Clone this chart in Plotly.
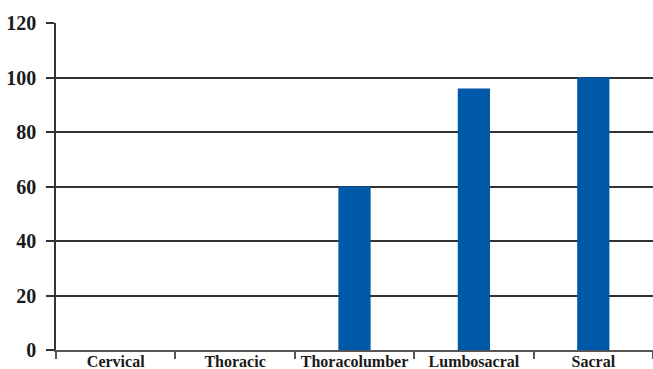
import plotly.graph_objects as go

categories = ["Cervical", "Thoracic", "Thoracolumber", "Lumbosacral", "Sacral"]
values = [0, 0, 60, 96, 100]
y_ticks = [0, 20, 40, 60, 80, 100, 120]

positions = list(range(len(categories)))
boundaries = [p - 0.5 for p in positions] + [positions[-1] + 0.5]

fig = go.Figure(
    go.Bar(
        x=positions,
        y=values,
        width=0.27,
        marker=dict(color="#0058a8", line=dict(width=0)),
    )
)

fig.update_layout(
    width=653,
    height=369,
    margin=dict(l=56, r=0, t=23, b=19),
    plot_bgcolor="white",
    paper_bgcolor="white",
    showlegend=False,
    font=dict(family="Liberation Serif", color="#1a1a1a"),
)

fig.update_xaxes(
    range=[-0.5, len(categories) - 0.5],
    tickvals=positions,
    ticktext=[f"<b>{c}</b>" for c in categories],
    ticks="",
    tickfont=dict(size=16, family="Liberation Serif", color="#1a1a1a"),
    ticklabelstandoff=-4,
    automargin=False,
    showgrid=False,
    zeroline=False,
    showline=True,
    linecolor="#555555",
    linewidth=2,
    minor=dict(
        tickvals=boundaries,
        ticks="outside",
        ticklen=7,
        tickcolor="#555555",
        tickwidth=1.5,
        showgrid=False,
    ),
)

fig.update_yaxes(
    range=[0, 120],
    tickvals=y_ticks,
    ticktext=[f"<b>{v}</b>" for v in y_ticks],
    ticks="outside",
    ticklen=8,
    tickcolor="#333333",
    tickwidth=1.5,
    tickfont=dict(size=20, family="Liberation Serif", color="#1a1a1a"),
    ticklabelstandoff=6,
    automargin=False,
    showgrid=True,
    gridcolor="#333333",
    gridwidth=1.5,
    zeroline=False,
    showline=True,
    linecolor="#333333",
    linewidth=1.5,
)

fig.write_html("out.html")
